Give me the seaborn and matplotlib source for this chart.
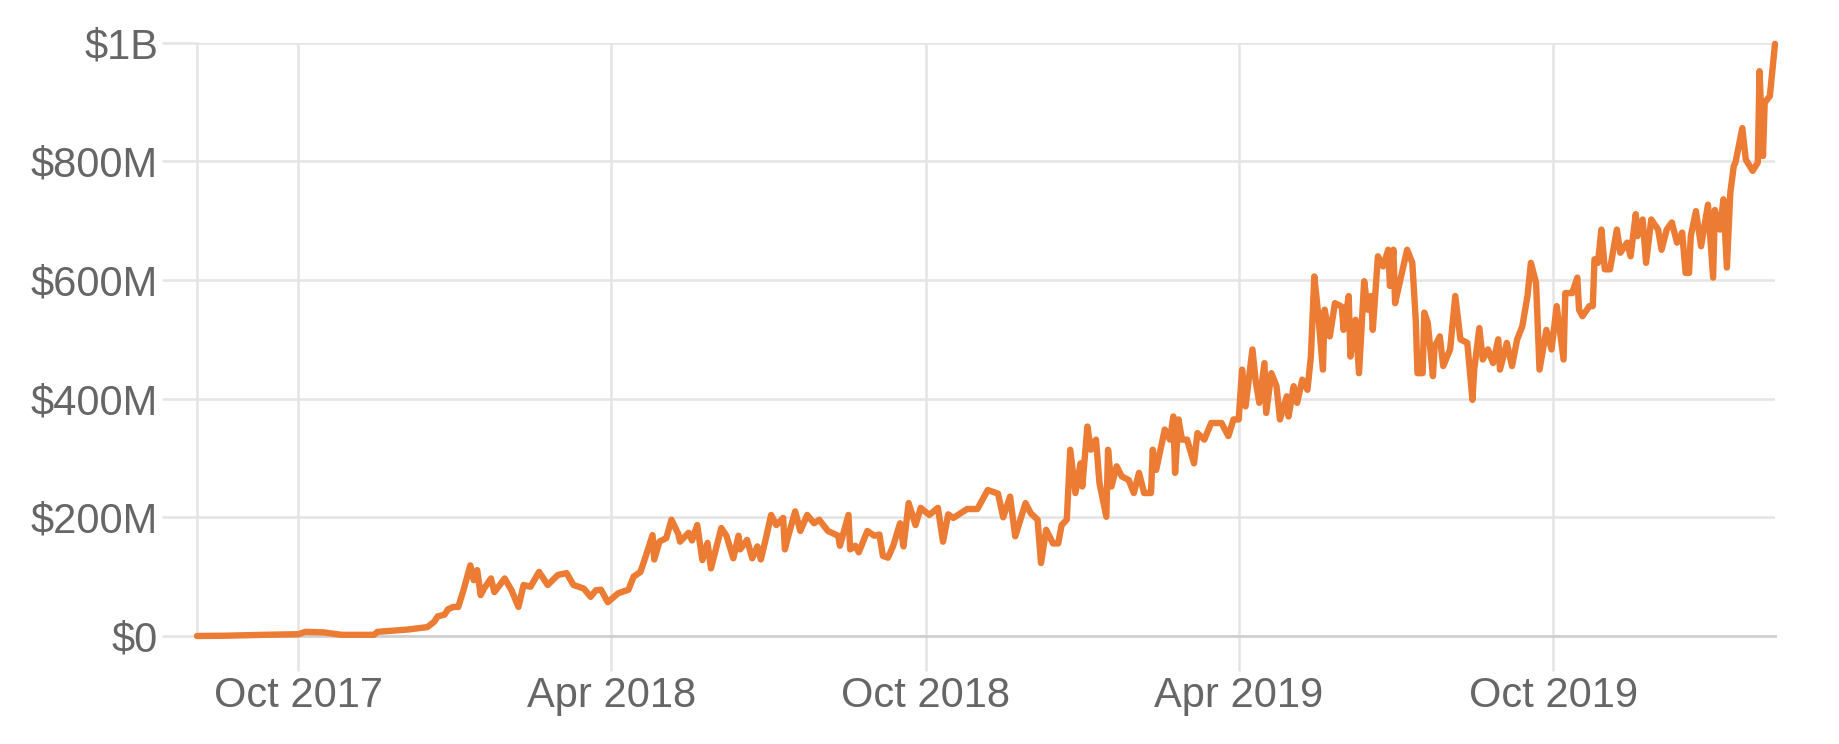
import pandas as pd
import matplotlib
matplotlib.use("Agg")
import matplotlib.pyplot as plt
import matplotlib.dates as mdates
from matplotlib.ticker import FuncFormatter, FixedLocator
import seaborn as sns

# values (millions of USD)
dates = [
    "2017-08-03", "2017-08-20", "2017-09-11", "2017-10-01", "2017-10-05", "2017-10-16",
    "2017-10-26", "2017-11-14", "2017-11-16", "2017-12-04", "2017-12-15", "2017-12-19",
    "2017-12-21", "2017-12-25", "2017-12-27", "2017-12-30", "2018-01-02", "2018-01-05",
    "2018-01-09", "2018-01-11", "2018-01-13", "2018-01-15", "2018-01-17", "2018-01-21",
    "2018-01-23", "2018-01-29", "2018-02-02", "2018-02-06", "2018-02-09", "2018-02-13",
    "2018-02-18", "2018-02-23", "2018-03-01", "2018-03-06", "2018-03-10", "2018-03-16",
    "2018-03-20", "2018-03-23", "2018-03-26", "2018-03-30", "2018-04-05", "2018-04-11",
    "2018-04-14", "2018-04-18", "2018-04-21", "2018-04-25", "2018-04-26", "2018-04-29",
    "2018-05-03", "2018-05-06", "2018-05-10", "2018-05-11", "2018-05-16", "2018-05-18",
    "2018-05-21", "2018-05-24", "2018-05-27", "2018-05-29", "2018-06-04", "2018-06-07",
    "2018-06-11", "2018-06-14", "2018-06-15", "2018-06-19", "2018-06-22", "2018-06-25",
    "2018-06-27", "2018-06-30", "2018-07-03", "2018-07-06", "2018-07-10", "2018-07-11",
    "2018-07-13", "2018-07-17", "2018-07-20", "2018-07-24", "2018-07-28", "2018-07-31",
    "2018-08-05", "2018-08-11", "2018-08-12", "2018-08-17", "2018-08-18", "2018-08-21",
    "2018-08-23", "2018-08-28", "2018-09-01", "2018-09-04", "2018-09-06", "2018-09-09",
    "2018-09-12", "2018-09-16", "2018-09-18", "2018-09-21", "2018-09-25", "2018-09-28",
    "2018-10-03", "2018-10-08", "2018-10-11", "2018-10-14", "2018-10-17", "2018-10-25",
    "2018-10-31", "2018-11-06", "2018-11-12", "2018-11-15", "2018-11-19", "2018-11-22",
    "2018-11-28", "2018-12-01", "2018-12-05", "2018-12-07", "2018-12-10", "2018-12-14",
    "2018-12-17", "2018-12-19", "2018-12-22", "2018-12-24", "2018-12-27", "2018-12-30",
    "2018-12-31", "2019-01-03", "2019-01-05", "2019-01-08", "2019-01-10", "2019-01-14",
    "2019-01-15", "2019-01-17", "2019-01-20", "2019-01-23", "2019-01-27", "2019-01-30",
    "2019-02-02", "2019-02-05", "2019-02-09", "2019-02-10", "2019-02-12", "2019-02-17",
    "2019-02-20", "2019-02-22", "2019-02-23", "2019-02-25", "2019-02-27", "2019-03-02",
    "2019-03-06", "2019-03-08", "2019-03-12", "2019-03-16", "2019-03-22", "2019-03-26",
    "2019-03-29", "2019-04-01", "2019-04-03", "2019-04-05", "2019-04-09", "2019-04-11",
    "2019-04-13", "2019-04-16", "2019-04-17", "2019-04-20", "2019-04-23", "2019-04-25",
    "2019-04-29", "2019-04-30", "2019-05-03", "2019-05-05", "2019-05-08", "2019-05-11",
    "2019-05-13", "2019-05-15", "2019-05-17", "2019-05-20", "2019-05-21", "2019-05-24",
    "2019-05-27", "2019-05-31", "2019-06-01", "2019-06-04", "2019-06-05", "2019-06-08",
    "2019-06-10", "2019-06-13", "2019-06-15", "2019-06-17", "2019-06-18", "2019-06-21",
    "2019-06-24", "2019-06-27", "2019-06-28", "2019-06-30", "2019-07-01", "2019-07-04",
    "2019-07-08", "2019-07-11", "2019-07-13", "2019-07-14", "2019-07-17", "2019-07-18",
    "2019-07-20", "2019-07-23", "2019-07-24", "2019-07-27", "2019-07-29", "2019-08-02",
    "2019-08-05", "2019-08-08", "2019-08-12", "2019-08-15", "2019-08-16", "2019-08-19",
    "2019-08-21", "2019-08-24", "2019-08-27", "2019-08-30", "2019-08-31", "2019-09-04",
    "2019-09-07", "2019-09-10", "2019-09-13", "2019-09-16", "2019-09-18", "2019-09-21",
    "2019-09-23", "2019-09-27", "2019-09-30", "2019-10-03", "2019-10-07", "2019-10-08",
    "2019-10-12", "2019-10-15", "2019-10-16", "2019-10-18", "2019-10-22", "2019-10-24",
    "2019-10-25", "2019-10-27", "2019-10-29", "2019-10-31", "2019-11-03", "2019-11-07",
    "2019-11-09", "2019-11-13", "2019-11-15", "2019-11-18", "2019-11-19", "2019-11-22",
    "2019-11-24", "2019-11-27", "2019-12-01", "2019-12-03", "2019-12-06", "2019-12-09",
    "2019-12-12", "2019-12-15", "2019-12-17", "2019-12-19", "2019-12-20", "2019-12-23",
    "2019-12-26", "2019-12-30", "2020-01-02", "2020-01-03", "2020-01-06", "2020-01-08",
    "2020-01-10", "2020-01-12", "2020-01-14", "2020-01-15", "2020-01-19", "2020-01-21",
    "2020-01-25", "2020-01-28", "2020-01-29", "2020-01-31", "2020-02-01", "2020-02-04",
    "2020-02-07",
]
aum_millions = [
    0, 0.5, 2, 3, 7, 6,
    2, 2, 7, 11, 15, 24,
    33, 36, 45, 49, 49, 77,
    119, 94, 111, 69, 80, 97,
    74, 97, 77, 49, 86, 83,
    108, 86, 103, 106, 86, 80,
    66, 77, 78, 57, 72, 78,
    100, 108, 134, 170, 129, 159,
    165, 196, 172, 159, 174, 161,
    187, 128, 157, 114, 182, 169,
    131, 169, 146, 162, 131, 151,
    129, 165, 204, 187, 199, 146,
    169, 210, 177, 204, 190, 196,
    177, 169, 152, 204, 146, 152,
    141, 177, 169, 171, 135, 132,
    152, 190, 151, 224, 187, 216,
    204, 216, 159, 205, 199, 214,
    214, 246, 240, 200, 235, 168,
    224, 207, 196, 123, 179, 156,
    156, 187, 196, 314, 241, 291,
    252, 353, 314, 331, 258, 201,
    314, 252, 286, 269, 263, 241,
    275, 241, 241, 314, 280, 348,
    331, 370, 275, 365, 331, 331,
    291, 342, 331, 359, 359, 337,
    365, 365, 449, 387, 483, 427,
    393, 460, 376, 443, 421, 365,
    404, 370, 421, 393, 432, 415,
    471, 606, 550, 449, 550, 505,
    561, 555, 516, 573, 471, 533,
    443, 598, 550, 573, 516, 640,
    623, 651, 590, 651, 561, 600,
    651, 629, 533, 443, 443, 545,
    528, 438, 488, 505, 455, 483,
    573, 500, 494, 398, 449, 519,
    466, 483, 460, 500, 449, 494,
    455, 500, 522, 573, 629, 595,
    449, 516, 483, 556, 466, 578,
    578, 604, 550, 539, 556, 556,
    635, 629, 685, 618, 618, 685,
    646, 663, 640, 711, 674, 702,
    629, 702, 685, 651, 685, 697,
    663, 680, 612, 612, 674, 716,
    657, 727, 604, 718, 685, 736,
    621, 747, 792, 798, 856, 803,
    784, 798, 952, 809, 899, 910,
    998,
]
y_ticks = [0, 200, 400, 600, 800, 1000]
y_tick_labels = ["$0", "$200M", "$400M", "$600M", "$800M", "$1B"]

df = pd.DataFrame({"date": pd.to_datetime(dates), "aum": aum_millions})

sns.set_style("white")
plt.rcParams["font.family"] = ["Liberation Sans", "DejaVu Sans"]

grid_col = "#e4e4e4"
text_col = "#666666"

fig = plt.figure(figsize=(18.4, 7.44), dpi=100)
ax = fig.add_axes([197 / 1840, 1 - 636 / 744, (1775 - 197) / 1840, (636 - 42.7) / 744])

sns.lineplot(data=df, x="date", y="aum", color="#ec7b34", linewidth=4.6, ax=ax,
             clip_on=False, zorder=5)

ax.set_xlim(df["date"].iloc[0], df["date"].iloc[-1])
ax.set_ylim(0, 1000)
ax.yaxis.set_major_locator(FixedLocator(y_ticks))
ax.yaxis.set_major_formatter(FuncFormatter(lambda v, p: y_tick_labels[y_ticks.index(int(round(v)))]
                                           if int(round(v)) in y_ticks else ""))
ax.xaxis.set_major_locator(mdates.MonthLocator(bymonth=[4, 10]))
ax.xaxis.set_major_formatter(mdates.DateFormatter("%b %Y"))

ax.grid(True, color=grid_col, linewidth=1.8)
ax.set_axisbelow(True)
for side in ["top", "right"]:
    ax.spines[side].set_visible(False)
ax.spines["left"].set_color(grid_col)
ax.spines["left"].set_linewidth(1.8)
ax.spines["bottom"].set_color("#cfcfcf")
ax.spines["bottom"].set_linewidth(2.0)

# seaborn's white style hides tick marks; the reference shows long grey ones
ax.tick_params(axis="both", left=True, bottom=True, length=25, width=1.8, color=grid_col,
               labelsize=30, labelcolor=text_col)
ax.tick_params(axis="y", pad=3)
ax.tick_params(axis="x", pad=4)
ax.set_xlabel("")
ax.set_ylabel("")

fig.savefig("out.png", dpi=100, facecolor="white")
